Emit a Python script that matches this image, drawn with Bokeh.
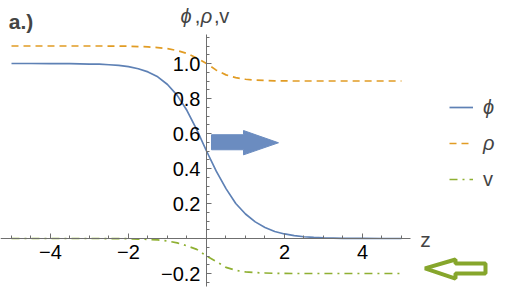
import numpy as np
from bokeh.plotting import figure
from bokeh.models import (Range1d, FixedTicker, CustomJSTickFormatter, Legend,
                          LegendItem, Label, PolyAnnotation)
from bokeh.embed import file_html
from bokeh.resources import INLINE

# ---- data ----
z = [-5, -4.5, -4, -3.5, -3, -2.75, -2.5, -2.25, -2, -1.75, -1.5, -1.25, -1,
     -0.75, -0.5, -0.25, 0, 0.25, 0.5, 0.75, 1, 1.25, 1.5, 1.75, 2, 2.25, 2.5,
     2.75, 3, 3.5, 4, 4.5, 5]
phi = [1.0, 1.0, 0.9997, 0.999, 0.997, 0.996, 0.993, 0.989, 0.982, 0.970,
       0.952, 0.924, 0.880, 0.818, 0.731, 0.622, 0.500, 0.385, 0.285, 0.200,
       0.140, 0.095, 0.063, 0.040, 0.026, 0.016, 0.010, 0.006, 0.004, 0.001,
       0.0003, 0.0, 0.0]
rho = [1.1, 1.1, 1.1, 1.1, 1.1, 1.1, 1.0997, 1.0995, 1.099, 1.097, 1.095,
       1.091, 1.085, 1.074, 1.057, 1.032, 1.0, 0.962, 0.935, 0.919, 0.910,
       0.905, 0.903, 0.901, 0.9005, 0.9, 0.9, 0.9, 0.9, 0.9, 0.9, 0.9, 0.9]
v = [0, 0, 0, 0, 0, 0, -0.0003, -0.0006, -0.001, -0.003, -0.005, -0.008,
     -0.014, -0.025, -0.042, -0.062, -0.10, -0.132, -0.165, -0.182, -0.191,
     -0.195, -0.197, -0.199, -0.1995, -0.2, -0.2, -0.2, -0.2, -0.2, -0.2,
     -0.2, -0.2]

x_tick_vals = [-4, -2, 2, 4]
y_tick_vals = [-0.2, 0.2, 0.4, 0.6, 0.8, 1.0]
series_labels = ["\u03d5", "\u03c1", "v"]

BLUE = "#5e81b5"
ORANGE = "#e19c24"
GREEN = "#8fb032"
AXIS = "#6f6f6f"
FONT = "Liberation Sans"

p = figure(width=505, height=289, x_range=Range1d(-5.282, 7.667),
           y_range=Range1d(-0.2914, 1.36), output_backend="svg",
           toolbar_location=None, min_border=0)
p.grid.visible = False
p.outline_line_color = None
p.background_fill_color = "white"

r_phi = p.line(z, phi, line_color=BLUE, line_width=1.7)
r_rho = p.line(z, rho, line_color=ORANGE, line_width=1.7, line_dash="7 5")
r_v = p.line(z, v, line_color=GREEN, line_width=1.7, line_dash="8 5 2 5")

for ax in (p.xaxis[0], p.yaxis[0]):
    ax.fixed_location = 0
    ax.axis_line_color = AXIS
    ax.major_tick_line_color = AXIS
    ax.minor_tick_line_color = AXIS
    ax.major_tick_in = 5
    ax.major_tick_out = 0
    ax.minor_tick_in = 3
    ax.minor_tick_out = 0
    ax.major_label_text_font = FONT
    ax.major_label_text_font_size = "20px"
    ax.major_label_text_color = "black"

xa = p.xaxis[0]
xa.ticker = FixedTicker(ticks=x_tick_vals,
                        minor_ticks=list(np.arange(-5, 5.01, 0.5)))
xa.formatter = CustomJSTickFormatter(
    code="return (tick < 0 ? '\u2212' : '') + Math.abs(tick).toFixed(0);")
xa.bounds = (-5.5, 5.23)
xa.major_label_standoff = 6

ya = p.yaxis[0]
ya.ticker = FixedTicker(ticks=y_tick_vals,
                        minor_ticks=list(np.round(np.arange(-0.25, 1.151, 0.05), 3)))
ya.formatter = CustomJSTickFormatter(
    code="return (tick < 0 ? '\u2212' : '') + Math.abs(tick).toFixed(1);")
ya.bounds = (-0.274, 1.166)
ya.major_label_standoff = 6

# legends
leg1 = Legend(items=[LegendItem(label=series_labels[0], renderers=[r_phi]),
                     LegendItem(label=series_labels[1], renderers=[r_rho])],
              location=(449, 128), label_text_font_style="italic")
leg2 = Legend(items=[LegendItem(label=series_labels[2], renderers=[r_v])],
              location=(449, 92))
for lg in (leg1, leg2):
    lg.margin = 0
    lg.padding = 0
    lg.spacing = 0
    lg.glyph_width = 24
    lg.glyph_height = 36
    lg.label_height = 36
    lg.label_standoff = 10
    lg.border_line_color = None
    lg.background_fill_alpha = 0
    lg.label_text_font = FONT
    lg.label_text_font_size = "20px"
    lg.label_text_baseline = "middle"
    p.add_layout(lg, "center")

# texts
p.add_layout(Label(x=-5.07, y=1.24, text="a.)", text_font=FONT,
                   text_font_size="21px", text_font_style="bold",
                   text_baseline="alphabetic"))
title_parts = [("\u03d5", -0.667, "italic"), (",", -0.30, "normal"),
               ("\u03c1", -0.15, "italic"), (",", 0.19, "normal"),
               ("v", 0.33, "normal")]
for txt, xx, st in title_parts:
    p.add_layout(Label(x=xx, y=1.27, text=txt, text_font=FONT,
                       text_font_size="20px", text_font_style=st,
                       text_baseline="alphabetic"))
p.add_layout(Label(x=5.615, y=-0.006, text="z", text_font=FONT,
                   text_font_size="21px", text_align="center",
                   text_baseline="middle"))

# arrows
p.add_layout(PolyAnnotation(
    xs=[0.128, 0.949, 0.949, 1.846, 0.949, 0.949, 0.128],
    ys=[0.593, 0.593, 0.617, 0.547, 0.478, 0.507, 0.507],
    fill_color="#6b8cc0", fill_alpha=1, line_color="#6b8cc0",
    line_alpha=1, line_width=1))
p.add_layout(PolyAnnotation(
    xs=[5.603, 6.385, 6.385, 7.154, 7.154, 6.385, 6.385],
    ys=[-0.171, -0.12, -0.143, -0.143, -0.2, -0.2, -0.229],
    fill_color="white", fill_alpha=1, line_color="#86a62c",
    line_alpha=1, line_width=4))

open("out.html", "w").write(file_html(p, INLINE))
